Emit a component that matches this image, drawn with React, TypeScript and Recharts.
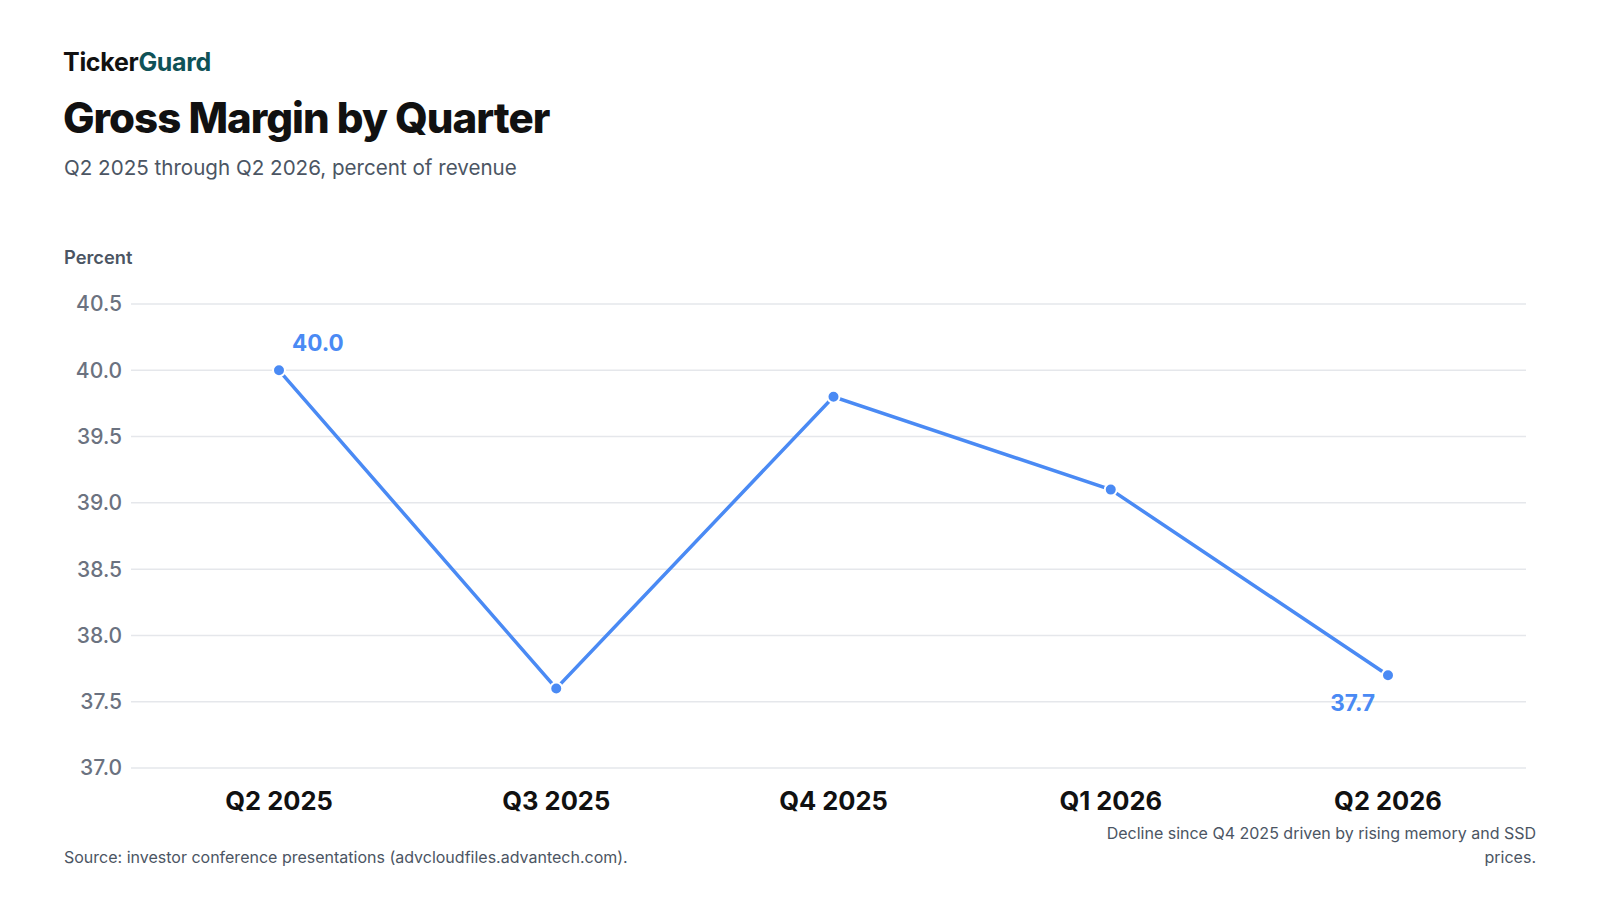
import React from 'react';
import { LineChart, Line, XAxis, YAxis, CartesianGrid, LabelList } from 'recharts';

const quarters = ['Q2 2025', 'Q3 2025', 'Q4 2025', 'Q1 2026', 'Q2 2026'];
const grossMargin = [40.0, 37.6, 39.8, 39.1, 37.7];
const yTicks = [37.0, 37.5, 38.0, 38.5, 39.0, 39.5, 40.0, 40.5];

const chartData = quarters.map((quarter, i) => ({ quarter, margin: grossMargin[i] }));

const colors = {
  line: '#4a8af4',
  grid: '#e5e7eb',
  tick: '#6b7280',
  title: '#111111',
  sub: '#4b5563',
  brand: '#0f5257',
};

const FONT = 'Inter, "Noto Sans", sans-serif';

// only first and last points get a value label
const EndLabel = (props: any) => {
  const { x, y, index, value } = props;
  if (index === 0) {
    return (
      <text x={x + 13} y={y - 19} textAnchor="start" fill={colors.line} fontSize={22.5} fontWeight={700} fontFamily={FONT}>
        {Number(value).toFixed(1)}
      </text>
    );
  }
  if (index === quarters.length - 1) {
    return (
      <text x={x - 13} y={y + 36} textAnchor="end" fill={colors.line} fontSize={22.5} fontWeight={700} fontFamily={FONT}>
        {Number(value).toFixed(1)}
      </text>
    );
  }
  return null;
};

const App = () => {
  return (
    <div style={{ position: 'fixed', left: 0, top: 0, width: 1600, height: 900, background: '#fff', fontFamily: FONT }}>
      <div style={{ position: 'absolute', left: 63, top: 47, fontSize: 25, lineHeight: '30px', fontWeight: 700, color: colors.title, letterSpacing: -0.3 }}>
        Ticker<span style={{ color: colors.brand }}>Guard</span>
      </div>
      <div style={{ position: 'absolute', left: 63, top: 93, fontSize: 42, lineHeight: '50px', fontWeight: 800, color: colors.title, letterSpacing: -1 }}>
        Gross Margin by Quarter
      </div>
      <div style={{ position: 'absolute', left: 64, top: 155, fontSize: 20.6, lineHeight: '26px', color: colors.sub }}>
        Q2 2025 through Q2 2026, percent of revenue
      </div>
      <div style={{ position: 'absolute', left: 64, top: 246, fontSize: 18.3, lineHeight: '22px', fontWeight: 600, color: colors.sub }}>
        Percent
      </div>

      <div style={{ position: 'absolute', left: 0, top: 271 }}>
        <LineChart width={1600} height={560} data={chartData} margin={{ top: 33, right: 74, left: 0, bottom: 8 }}>
          <CartesianGrid vertical={false} stroke={colors.grid} strokeWidth={1.5} />
          <XAxis
            dataKey="quarter"
            axisLine={false}
            tickLine={false}
            tickSize={0}
            tickMargin={24}
            height={55}
            padding={{ left: 148, right: 138 }}
            tick={{ fill: colors.title, fontSize: 25.5, fontWeight: 700, fontFamily: FONT }}
          />
          <YAxis
            domain={[37, 40.5]}
            ticks={yTicks}
            width={131}
            axisLine={false}
            tickLine={false}
            tickSize={0}
            tickMargin={9}
            tickFormatter={(v) => Number(v).toFixed(1)}
            tick={{ fill: colors.tick, fontSize: 21, fontWeight: 500, fontFamily: FONT }}
          />
          <Line
            type="linear"
            dataKey="margin"
            stroke={colors.line}
            strokeWidth={3.5}
            dot={{ r: 6, fill: colors.line, stroke: '#fff', strokeWidth: 2 }}
            activeDot={false}
            isAnimationActive={false}
          >
            <LabelList dataKey="margin" content={EndLabel} />
          </Line>
        </LineChart>
      </div>

      <div style={{ position: 'absolute', left: 64, top: 845, fontSize: 16, lineHeight: '24px', color: colors.sub }}>
        Source: investor conference presentations (advcloudfiles.advantech.com).
      </div>
      <div style={{ position: 'absolute', right: 64, top: 821, width: 440, textAlign: 'right', fontSize: 16, lineHeight: '24px', color: colors.sub }}>
        Decline since Q4 2025 driven by rising memory and SSD prices.
      </div>
    </div>
  );
};

export default App;
